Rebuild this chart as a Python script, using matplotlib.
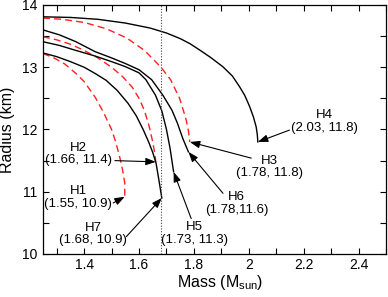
import matplotlib
matplotlib.use('Agg')
import matplotlib.pyplot as plt
from matplotlib.ticker import MultipleLocator

plt.rcParams['font.family'] = ['Liberation Sans', 'DejaVu Sans']

# mass-radius curves (mass in M_sun, radius in km)
h1_m = [1.25, 1.29, 1.33, 1.37, 1.40, 1.44, 1.47, 1.50, 1.515, 1.53, 1.54, 1.548, 1.548]
h1_r = [13.22, 13.15, 13.05, 12.90, 12.77, 12.52, 12.28, 12.00, 11.80, 11.55, 11.35, 11.14, 10.92]

h2_m = [1.25, 1.30, 1.35, 1.40, 1.45, 1.50, 1.54, 1.575, 1.60, 1.62, 1.637, 1.65, 1.658, 1.661]
h2_r = [13.49, 13.44, 13.37, 13.27, 13.15, 13.00, 12.85, 12.68, 12.50, 12.30, 12.05, 11.80, 11.60, 11.48]

h3_m = [1.25, 1.32, 1.40, 1.48, 1.555, 1.62, 1.68, 1.715, 1.748, 1.762, 1.772, 1.78, 1.785]
h3_r = [13.79, 13.77, 13.72, 13.62, 13.47, 13.27, 13.00, 12.80, 12.50, 12.30, 12.15, 11.98, 11.80]

h4_m = [1.25, 1.35, 1.45, 1.55, 1.64, 1.70, 1.75, 1.785, 1.82, 1.86, 1.905, 1.94, 1.966,
        1.985, 2.003, 2.017, 2.027, 2.031, 2.033]
h4_r = [13.81, 13.80, 13.77, 13.71, 13.63, 13.55, 13.46, 13.38, 13.28, 13.16, 13.01, 12.86, 12.69,
        12.55, 12.37, 12.20, 12.04, 11.92, 11.80]

h5_m = [1.25, 1.31, 1.37, 1.44, 1.50, 1.55, 1.60, 1.625, 1.66, 1.683, 1.70, 1.713, 1.726]
h5_r = [13.41, 13.35, 13.27, 13.18, 13.09, 13.01, 12.91, 12.80, 12.55, 12.30, 12.00, 11.70, 11.32]

h6_m = [1.25, 1.31, 1.37, 1.44, 1.50, 1.55, 1.60, 1.646, 1.687, 1.72, 1.74, 1.76, 1.78]
h6_r = [13.60, 13.52, 13.41, 13.25, 13.15, 13.06, 12.96, 12.80, 12.55, 12.31, 12.10, 11.85, 11.64]

h7_m = [1.25, 1.30, 1.35, 1.40, 1.44, 1.48, 1.52, 1.56, 1.59, 1.615, 1.635, 1.65, 1.662, 1.672, 1.683]
h7_r = [13.23, 13.17, 13.09, 13.00, 12.90, 12.79, 12.63, 12.42, 12.22, 12.00, 11.80, 11.63, 11.46, 11.20, 10.90]

labels = ['H1\n(1.55, 10.9)', 'H2\n(1.66, 11.4)', 'H3\n(1.78, 11.8)', 'H4\n(2.03, 11.8)',
          'H5\n(1.73, 11.3)', 'H6\n(1.78,11.6)', 'H7\n(1.68, 10.9)']

m_line = 1.68

fig = plt.figure(figsize=(3.88, 2.97), dpi=100)
ax = fig.add_axes([0.1108, 0.1448, 0.884, 0.8384])

dash = (0, (5, 3))
ax.plot(h1_m, h1_r, color='#ff2020', lw=1.0, linestyle=dash)
ax.plot(h2_m, h2_r, color='#ff2020', lw=1.0, linestyle=dash)
ax.plot(h3_m, h3_r, color='#ff2020', lw=1.0, linestyle=dash)
ax.plot(h4_m, h4_r, color='black', lw=1.0)
ax.plot(h5_m, h5_r, color='black', lw=1.0)
ax.plot(h6_m, h6_r, color='black', lw=1.0)
ax.plot(h7_m, h7_r, color='black', lw=1.0)

ax.axvline(m_line, color='#444444', lw=0.8, linestyle=(0, (1, 1.5)))

# text centre, arrow start for each label; arrows end at the curve ends
ends = [(h1_m[-1], h1_r[-1]), (h2_m[-1], h2_r[-1]), (h3_m[-1], h3_r[-1]), (h4_m[-1], h4_r[-1]),
        (h5_m[-1], h5_r[-1]), (h6_m[-1], h6_r[-1]), (h7_m[-1], h7_r[-1])]
txt_pos = [(1.378, 10.91), (1.378, 11.61), (2.075, 11.40), (2.275, 12.13),
           (1.803, 10.33), (1.955, 10.81), (1.433, 10.32)]
arr_start = [(1.506, 10.82), (1.512, 11.50), (2.009, 11.54), (2.148, 11.99),
             (1.790, 10.57), (1.906, 10.975), (1.554, 10.28)]

for i in range(len(labels)):
    ax.text(txt_pos[i][0], txt_pos[i][1], labels[i], ha='center', va='center',
            fontsize=9.5, linespacing=1.05)
    ax.annotate('', xy=ends[i], xytext=arr_start[i],
                arrowprops=dict(arrowstyle='-|>,head_length=0.6,head_width=0.22',
                                color='black', lw=0.8, shrinkA=0, shrinkB=0))

ax.set_xlim(1.25, 2.5)
ax.set_ylim(10, 14)
ax.xaxis.set_major_locator(MultipleLocator(0.2))
ax.xaxis.set_minor_locator(MultipleLocator(0.1))
ax.yaxis.set_major_locator(MultipleLocator(1))
ax.yaxis.set_minor_locator(MultipleLocator(0.5))
ax.tick_params(which='both', direction='in', top=True, right=True, length=4.5, width=0.8,
               labelsize=10)
ax.tick_params(axis='x', pad=3)
ax.tick_params(axis='y', pad=4)
ax.set_xticks([1.4, 1.6, 1.8, 2.0, 2.2, 2.4])
ax.set_xticklabels(['1.4', '1.6', '1.8', '2', '2.2', '2.4'])
for s in ax.spines.values():
    s.set_linewidth(0.9)

ax.set_xlabel('Mass (M$_{\\mathregular{sun}}$)', fontsize=11.5)
ax.set_ylabel('Radius (km)', fontsize=11.5)
ax.xaxis.set_label_coords(0.516, -0.078)
ax.yaxis.set_label_coords(-0.083, 0.5)

fig.savefig('out.png', dpi=100)
